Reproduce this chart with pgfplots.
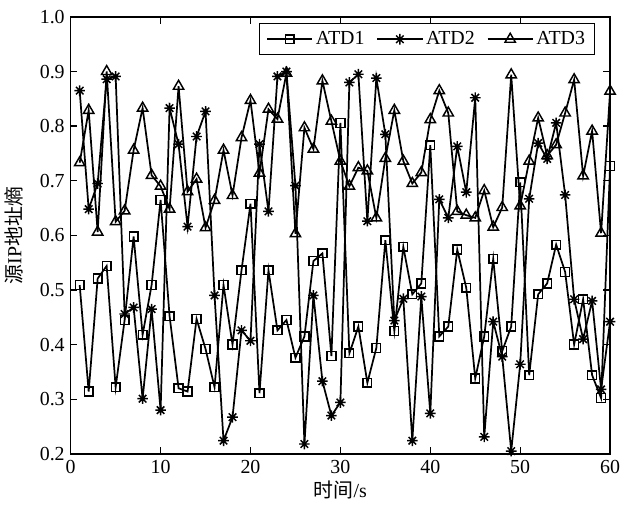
\documentclass[border=0pt]{standalone}
\usepackage{pgfplots}
\pgfplotsset{compat=1.18}
\usepackage{pgfplotstable}
\usepackage{fontspec}
\setmainfont{Liberation Serif}
\newfontfamily\cjk{Noto Sans CJK SC}
\pgfdeclareplotmark{ast8}{%
  \pgfpathmoveto{\pgfpoint{0pt}{\pgfplotmarksize}}\pgfpathlineto{\pgfpoint{0pt}{-\pgfplotmarksize}}%
  \pgfpathmoveto{\pgfpoint{\pgfplotmarksize}{0pt}}\pgfpathlineto{\pgfpoint{-\pgfplotmarksize}{0pt}}%
  \pgfpathmoveto{\pgfpoint{0.7071\pgfplotmarksize}{0.7071\pgfplotmarksize}}\pgfpathlineto{\pgfpoint{-0.7071\pgfplotmarksize}{-0.7071\pgfplotmarksize}}%
  \pgfpathmoveto{\pgfpoint{-0.7071\pgfplotmarksize}{0.7071\pgfplotmarksize}}\pgfpathlineto{\pgfpoint{0.7071\pgfplotmarksize}{-0.7071\pgfplotmarksize}}%
  \pgfusepathqstroke}
\pgfplotstableread{
x a b c
1 0.509 0.865 0.733
2 0.314 0.648 0.829
3 0.521 0.695 0.606
4 0.544 0.886 0.900
5 0.322 0.891 0.625
6 0.445 0.456 0.645
7 0.598 0.468 0.756
8 0.418 0.301 0.833
9 0.509 0.465 0.710
10 0.665 0.280 0.690
11 0.452 0.833 0.648
12 0.320 0.767 0.873
13 0.314 0.616 0.680
14 0.447 0.781 0.703
15 0.392 0.827 0.614
16 0.322 0.490 0.664
17 0.509 0.224 0.756
18 0.400 0.267 0.673
19 0.536 0.426 0.779
20 0.658 0.407 0.847
21 0.311 0.767 0.714
22 0.536 0.644 0.831
23 0.426 0.891 0.813
24 0.445 0.900 0.897
25 0.376 0.691 0.603
26 0.415 0.218 0.797
27 0.553 0.490 0.758
28 0.567 0.333 0.883
29 0.379 0.270 0.809
30 0.806 0.294 0.736
31 0.384 0.880 0.690
32 0.433 0.895 0.724
33 0.330 0.626 0.718
34 0.394 0.888 0.632
35 0.591 0.785 0.741
36 0.425 0.444 0.829
37 0.579 0.484 0.736
38 0.492 0.224 0.695
39 0.512 0.488 0.715
40 0.765 0.274 0.812
41 0.415 0.666 0.865
42 0.433 0.632 0.824
43 0.574 0.763 0.644
44 0.504 0.679 0.637
45 0.338 0.852 0.632
46 0.415 0.231 0.682
47 0.557 0.442 0.615
48 0.388 0.378 0.651
49 0.433 0.205 0.894
50 0.697 0.364 0.654
51 0.344 0.667 0.736
52 0.492 0.769 0.815
53 0.512 0.740 0.746
54 0.583 0.806 0.766
55 0.533 0.674 0.824
56 0.400 0.483 0.885
57 0.483 0.410 0.709
58 0.344 0.480 0.791
59 0.302 0.318 0.604
60 0.727 0.442 0.864
}\data
\begin{document}
\begin{tikzpicture}
\begin{axis}[
  scale only axis,
  width=406.5pt, height=329.25pt,
  xmin=0, xmax=60, ymin=0.2, ymax=1.0,
  xtick={0,10,...,60},
  ytick={0.2,0.3,...,1.0},
  yticklabel style={/pgf/number format/fixed, /pgf/number format/fixed zerofill, /pgf/number format/precision=1, xshift=-1pt},
  /pgf/number format/assume math mode=true,
  tick align=inside,
  major tick length=5pt,
  axis line style={line width=1.1pt},
  every tick/.style={black, line width=1pt},
  tick label style={font=\fontsize{15}{17}\selectfont},
  xticklabel style={yshift=-1pt},
  every axis y label/.style={at={(axis description cs:0,0.5)}, xshift=-43pt, rotate=90, anchor=center, font=\fontsize{15}{17}\selectfont},
  every axis x label/.style={at={(axis description cs:0.5,0)}, yshift=-27pt, anchor=center, font=\fontsize{15}{17}\selectfont},
  xlabel={{\cjk 时间}/s},
  ylabel={{\cjk 源}IP{\cjk 地址熵}},
  legend columns=3,
  legend style={at={(0.972,0.986)}, anchor=north east, draw=black, line width=1pt,
    font=\fontsize{15}{17}\selectfont, inner xsep=5pt, inner ysep=4pt,
    /tikz/every even column/.append style={column sep=7pt}},
  legend image code/.code={\draw[mark repeat=2, mark phase=2] plot coordinates {(0cm,0cm) (0.6cm,0cm) (1.2cm,0cm)};},
  every axis plot/.append style={black, line width=1.3pt},
]
\addplot[mark=square, mark size=3.3pt, mark options={solid, line width=1.1pt}] table[x=x, y=a] {\data};
\addlegendentry{ATD1}
\addplot[mark=ast8, mark size=4pt, mark options={solid, line width=1.1pt}] table[x=x, y=b] {\data};
\addlegendentry{ATD2}
\addplot[mark=triangle, mark size=4.5pt, mark options={solid, line width=1.1pt}] table[x=x, y=c] {\data};
\addlegendentry{ATD3}
\end{axis}
\path (current axis.south west) ++(-51pt,-40.5pt) coordinate (bl);
\path (current axis.north east) ++(13.5pt,12.75pt) coordinate (tr);
\path (bl) rectangle (tr);
\end{tikzpicture}
\end{document}
